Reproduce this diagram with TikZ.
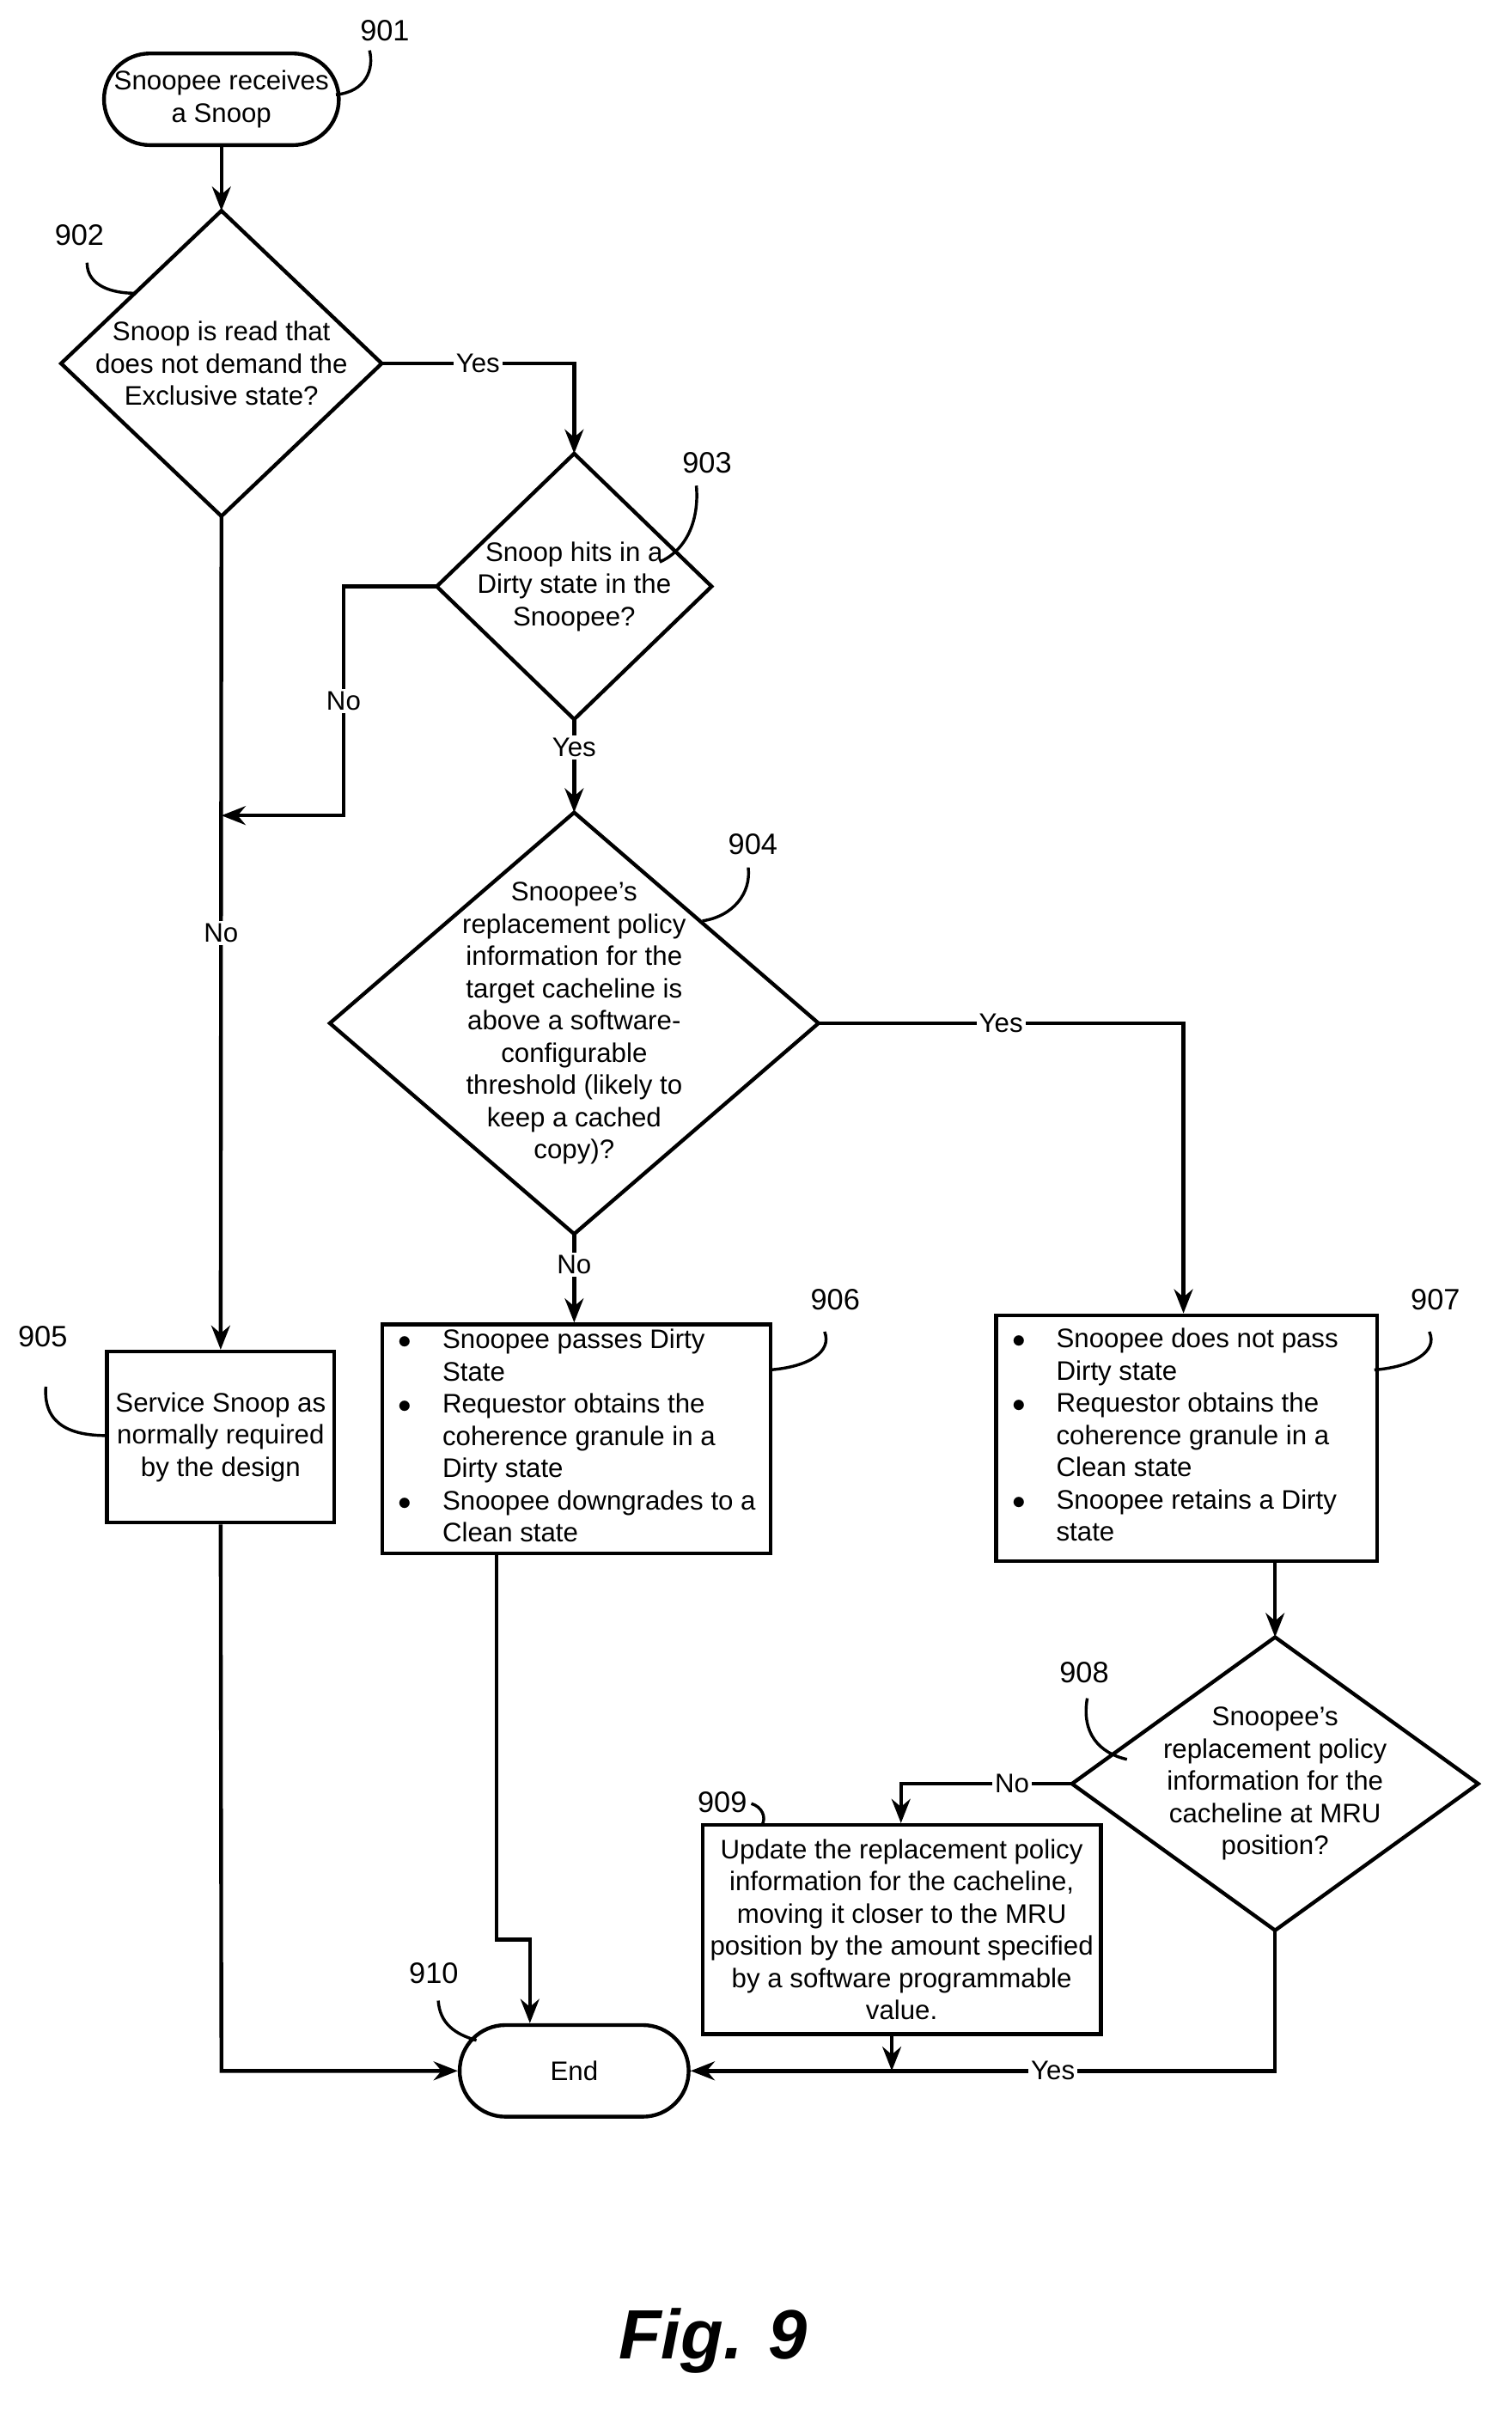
\documentclass[tikz,border=0pt]{standalone}
\usepackage{fontspec}
\setmainfont{Liberation Sans}
\usepackage{array}
\usetikzlibrary{arrows.meta,shapes.misc}
\begin{document}
\begin{tikzpicture}[x=0.02cm,y=-0.02cm,
  line width=1.4pt,
  txt/.style={font=\fontsize{10}{12}\selectfont,align=center,inner sep=0pt},
  lab/.style={font=\fontsize{10}{12}\selectfont,fill=white,inner sep=1pt},
  num/.style={font=\fontsize{11}{13}\selectfont,inner sep=0pt},
  arr/.style={-{Stealth[length=9pt,width=7pt]}},
  term/.style={draw,rounded rectangle,minimum width=3cm,minimum height=1.2cm,txt},
  box/.style={draw,inner sep=0pt,txt},
  lead/.style={line width=1.1pt}]
\useasboundingbox (0,0) rectangle (990,1582);
\newcolumntype{L}[1]{>{\raggedright\arraybackslash}p{#1}}
% terminators
\node[term] (n901) at (145,65) {Snoopee receives\\a Snoop};
\node[term] (n910) at (376,1356) {End};
% diamonds
\foreach \n/\cx/\cy/\hw/\hh in {d902/145/238/105/100,d903/376/384/90/87,d904/376/670/160/138,d908/835/1168/133/96}{
  \coordinate (\n t) at (\cx,\cy-\hh);
  \coordinate (\n b) at (\cx,\cy+\hh);
  \coordinate (\n l) at (\cx-\hw,\cy);
  \coordinate (\n r) at (\cx+\hw,\cy);
  \draw (\n t) -- (\n r) -- (\n b) -- (\n l) -- cycle;
}
\node[txt] (t902) at (145,238) {Snoop is read that\\does not demand the\\Exclusive state?};
\node[txt] (t903) at (376,384) {Snoop hits in a\\Dirty state in the\\Snoopee?};
\node[txt] (t904) at (376,670) {Snoopee's\\replacement policy\\information for the\\target cacheline is\\above a software-\\configurable\\threshold (likely to\\keep a cached\\copy)?};
\node[txt] (t908) at (835,1168) {Snoopee's\\replacement policy\\information for the\\cacheline at MRU\\position?};
% boxes
\node[box,minimum width=2.98cm,minimum height=2.24cm] (n905) at (144.5,941) {Service Snoop as\\normally required\\by the design};
\node[box,minimum width=5.08cm,minimum height=3cm,anchor=north west,align=left] (n906) at (249,866) {%
\begin{tabular}{@{\hspace{6pt}}L{0.58cm}@{}L{4.3cm}@{}}
$\bullet$ & Snoopee passes Dirty\newline State\\
$\bullet$ & Requestor obtains the\newline coherence granule in a\newline Dirty state\\
$\bullet$ & Snoopee downgrades to a\newline Clean state
\end{tabular}};
\node[box,minimum width=4.98cm,minimum height=3.22cm,anchor=north west,align=left] (n907) at (651,860) {%
\begin{tabular}{@{\hspace{6pt}}L{0.58cm}@{}L{4.2cm}@{}}
$\bullet$ & Snoopee does not pass\newline Dirty state\\
$\bullet$ & Requestor obtains the\newline coherence granule in a\newline Clean state\\
$\bullet$ & Snoopee retains a Dirty\newline state
\end{tabular}};
\node[box,minimum width=5.22cm,minimum height=2.74cm] (n909) at (590.5,1263.5) {Update the replacement policy\\information for the cacheline,\\moving it closer to the MRU\\position by the amount specified\\by a software programmable\\value.};
% connectors
\coordinate (c1) at (376,238);
\coordinate (c2) at (225,384);
\coordinate (c3) at (225,534);
\coordinate (c4) at (145,534);
\coordinate (c5) at (775,670);
\coordinate (c6) at (145,1356);
\coordinate (c7) at (325,1270);
\coordinate (c8) at (347,1270);
\coordinate (c9) at (590,1168);
\coordinate (c10) at (835,1356);
\coordinate (c11) at (584,1356);
\draw[arr] (n901.south) -- (d902t);
\draw[arr] (d902r) -- node[lab,pos=0.5]{Yes} (c1) -- (d903t);
\draw[arr] (d903l) -- (c2) -- node[lab]{No} (c3) -- (c4);
\draw[arr] (d902b) -- node[lab,pos=0.5]{No} (n905.north);
\draw[arr] (d903b) -- node[lab,pos=0.3]{Yes} (d904t);
\draw[arr] (d904r) -- node[lab,pos=0.5]{Yes} (c5) -- (n907.north -| c5);
\draw[arr] (d904b) -- node[lab,pos=0.35]{No} (n906.north -| d904b);
\draw[arr] (n905.south) -- (c6) -- (n910.west);
\draw[arr] (n906.south -| c7) -- (c7) -- (c8) -- (n910.north -| c8);
\draw[arr] (n907.south -| d908t) -- (d908t);
\draw[arr] (d908l) -- node[lab,pos=0.35]{No} (c9) -- (n909.north -| c9);
\draw[arr] (d908b) -- (c10) -- node[lab,pos=0.38]{Yes} (n910.east);
\draw[arr] (n909.south -| c11) -- (c11);
% reference numerals
\node[num] (r901) at (252,20) {901};
\node[num] (r902) at (52,154) {902};
\node[num] (r903) at (463,303) {903};
\node[num] (r904) at (493,553) {904};
\node[num] (r905) at (28,875) {905};
\node[num] (r906) at (547,851) {906};
\node[num] (r907) at (940,851) {907};
\node[num] (r908) at (710,1095) {908};
\node[num] (r909) at (473,1180) {909};
\node[num] (r910) at (284,1292) {910};
\draw[lead] (220,62) .. controls (240,60) and (245,45) .. (242,33);
\draw[lead] (57,172) .. controls (57,188) and (75,192) .. (88,192);
\draw[lead] (432,368) .. controls (450,360) and (458,340) .. (456,318);
\draw[lead] (460,603) .. controls (480,600) and (492,585) .. (490,568);
\draw[lead] (30,908) .. controls (28,935) and (50,940) .. (70,940);
\draw[lead] (504,897) .. controls (530,895) and (545,885) .. (540,872);
\draw[lead] (900,897) .. controls (925,895) and (942,885) .. (936,872);
\draw[lead] (712,1112) .. controls (708,1135) and (720,1148) .. (738,1152);
\draw[lead] (492,1181) .. controls (499,1183) and (502,1190) .. (499,1195);
\draw[lead] (287,1310) .. controls (288,1325) and (298,1332) .. (312,1336);
\node[font=\bfseries\itshape\fontsize{26}{30}\selectfont] (fig) at (467,1533) {Fig. 9};
\end{tikzpicture}
\end{document}
